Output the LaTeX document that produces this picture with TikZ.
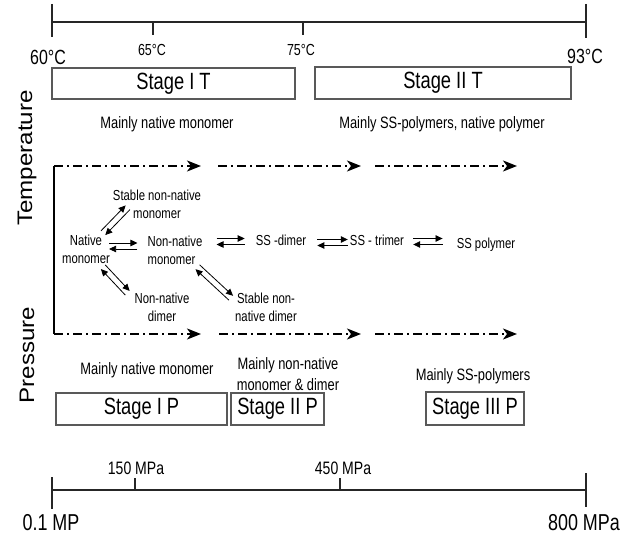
\documentclass[tikz,border=0pt]{standalone}
\usepackage{fontspec}
\setmainfont[FakeStretch=0.78]{Liberation Sans}
\newfontfamily\axisfont[FakeStretch=1.15]{Liberation Sans}
\usepackage{tikz}
\usetikzlibrary{arrows.meta}
\usetikzlibrary{calc}
\newcommand{\fs}[2]{\fontsize{#1}{#2}\selectfont}
\newcommand{\eqpair}[2]{%
\draw[eqarrow] ($(#1)!3pt!90:(#2)$) -- ($(#2)!3pt!-90:(#1)$);
\draw[eqarrow] ($(#2)!3pt!90:(#1)$) -- ($(#1)!3pt!-90:(#2)$);}

\begin{document}
\begin{tikzpicture}[x=1pt,y=-1pt]
\tikzstyle{species}=[inner sep=0pt,align=center,font=\fs{14.5}{18}]
\tikzstyle{note}=[inner sep=0pt,align=center,font=\fs{16.5}{21}]
\tikzstyle{stagebox}=[draw=black!65,line width=1.1pt,inner sep=0pt,font=\fs{23.5}{26}]
\tikzstyle{eqarrow}=[-{Triangle[length=7pt,width=6.5pt]},line width=0.8pt]
\tikzstyle{timeline}=[line width=1.6pt,dash pattern=on 9pt off 4pt on 2pt off 4pt,-{Stealth[length=14pt,width=11pt,inset=4pt]}]
\tikzstyle{axisline}=[line width=1.1pt,black!85]
\useasboundingbox (0,0) rectangle (633,535);
% temperature scale
\draw[axisline] (52,22) -- (586,22);
\draw[axisline] (52,4) -- (52,37) (586,4) -- (586,38);
\draw[axisline] (153,22) -- (153,35) (303,22) -- (303,35);
\node[font=\fs{20.5}{22}] (t60) at (48,57) {60°C};
\node[font=\fs{16}{18}] (t65) at (152,50) {65°C};
\node[font=\fs{16}{18}] (t75) at (301,50) {75°C};
\node[font=\fs{20.5}{22}] (t93) at (585,56) {93°C};
\node[stagebox,minimum width=243,minimum height=31] (stIT) at (173.5,83.5) {Stage I T};
\node[stagebox,minimum width=256,minimum height=32] (stIIT) at (443,83) {Stage II T};
\node[note] (mT1) at (167,124) {Mainly native monomer};
\node[note] (mT2) at (442,124) {Mainly SS-polymers, native polymer};
% axis titles
\node[font=\axisfont\fs{21}{24},rotate=90] (temp) at (27,158) {Temperature};
\node[font=\axisfont\fs{21}{24},rotate=90] (pres) at (27,355) {Pressure};
% time lines
\draw[line width=1.6pt] (54,166) -- (54,334);
\draw[timeline] (54,166) -- (201,166);
\draw[timeline] (218,166) -- (361,166);
\draw[timeline] (375,166) -- (517,166);
\draw[timeline] (54,334) -- (201,334);
\draw[timeline] (219,334) -- (361,334);
\draw[timeline] (375,334) -- (517,334);
% species
\node[species] (nat) at (86,249) {Native\\monomer};
\node[species] (snm) at (157,204) {Stable non-native\\monomer};
\node[species,align=left] (nnm) at (175,250) {Non-native\\monomer};
\node[species] (nnd) at (162,307) {Non-native\\dimer};
\node[species] (snd) at (266,307) {Stable non-\\native dimer};
\node[species] (ssd) at (281,240) {SS -dimer};
\node[species] (sst) at (377,240) {SS - trimer};
\node[species] (ssp) at (486,245) {SS polymer};
\eqpair{[shift={(-1,-3)}]nat.east}{[shift={(-10,-4)}]nnm.west}
\eqpair{[shift={(-7,-16)}]nat.east}{[shift={(15,-11)}]snm.south west}
\eqpair{[shift={(-7,18)}]nat.east}{[shift={(-7,-14)}]nnd.west}
\eqpair{[shift={(14,-8.5)}]nnm.east}{[shift={(-11,1.5)}]ssd.west}
\eqpair{[shift={(-5,17)}]nnm.east}{[shift={(-4,-9)}]snd.west}
\eqpair{[shift={(11,2.5)}]ssd.east}{[shift={(-2,2.5)}]sst.west}
\eqpair{[shift={(9,1.5)}]sst.east}{[shift={(-14,-3.5)}]ssp.west}
% pressure stages
\node[note] (mP1) at (147,370) {Mainly native monomer};
\node[note] (mP2) at (288,374) {Mainly non-native\\monomer \& dimer};
\node[note] (mP3) at (473,376) {Mainly SS-polymers};
\node[stagebox,minimum width=171,minimum height=32] (stIP) at (141.5,409) {Stage I P};
\node[stagebox,minimum width=93,minimum height=32] (stIIP) at (277.5,409) {Stage II P};
\node[stagebox,minimum width=98,minimum height=33] (stIIIP) at (475,408.5) {Stage III P};
% pressure scale
\draw[axisline] (52,490) -- (586,490);
\draw[axisline] (52,477) -- (52,509) (586,473) -- (586,507);
\draw[axisline] (135,478) -- (135,490) (340,478) -- (340,490);
\node[font=\fs{18}{20}] (p150) at (136,468) {150 MPa};
\node[font=\fs{18}{20}] (p450) at (343,468) {450 MPa};
\node[font=\fs{23}{25}] (p0) at (51,523) {0.1 MP};
\node[font=\fs{23}{25}] (p800) at (584,523) {800 MPa};
\end{tikzpicture}
\end{document}
